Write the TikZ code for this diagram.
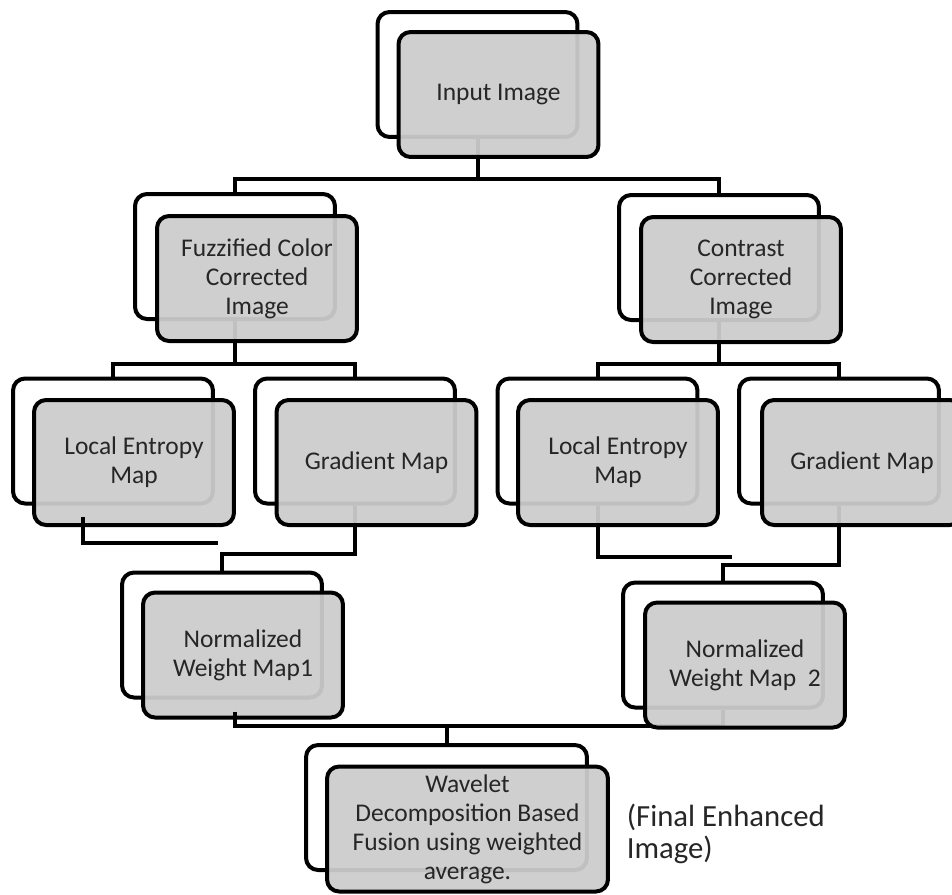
\documentclass[tikz,border=0pt]{standalone}
\usepackage{fontspec}
\setmainfont{Carlito}
\usetikzlibrary{positioning,calc}

\begin{document}
\begin{tikzpicture}[x=0.02cm, y=-0.02cm, line width=0.08cm,
  back/.style={draw=black, fill=white, rounded corners=0.24cm, minimum width=4cm, minimum height=2.5cm, inner sep=0pt},
  front/.style={back, fill=black!20, fill opacity=0.94, text opacity=1, align=center, text=black!85, font=\fontsize{14.5}{16.5}\selectfont},
  wide/.style={minimum width=5.62cm},
  note/.style={align=left, text=black!85, font=\fontsize{17.5}{18}\selectfont}]
\useasboundingbox (0,0) rectangle (952,894);
% shadow boxes
\node[back] (inpb) at (477.5,74.5) {};
\node[back] (fuzb) at (235,256.5) {};
\node[back] (conb) at (719,257.5) {};
\node[back] (le1b) at (113,441) {};
\node[back] (gr1b) at (355,441) {};
\node[back] (le2b) at (597.5,441) {};
\node[back] (gr2b) at (839,441) {};
\node[back] (w1b) at (222,635) {};
\node[back] (w2b) at (723,645) {};
\node[back, wide] (wavb) at (446.5,807.5) {};
% links
\draw (inpb.south) -- ++(0,40) coordinate (bus1);
\draw (fuzb.north) |- (bus1) -| (conb.north);
\draw (fuzb.south) -- ++(0,43) coordinate (bus2);
\draw (le1b.north) |- (bus2) -| (gr1b.north);
\draw (conb.south) -- ++(0,42) coordinate (bus3);
\draw (le2b.north) |- (bus3) -| (gr2b.north);
\draw (gr1b.south) -- ++(0,48.5) -| (w1b.north);
\coordinate (le2end) at (732,557);
\draw (le2b.south) |- (le2end);
\draw (gr2b.south) -- ++(0,59.5) -| (w2b.north);
\coordinate (bus4) at (446.5,726);
\draw (bus4) -| (w2b.south);
\draw (bus4) -- (wavb.north);
% front boxes
\node[front] (inp) at (498.5,94.5) {Input Image};
\node[front] (fuz) at (257,278.5) {Fuzzified Color\\Corrected\\Image};
\node[front] (con) at (741,279.5) {Contrast\\Corrected\\Image};
\node[front] (le1) at (134,462.5) {Local Entropy\\Map};
\node[front] (gr1) at (376.5,462.5) {Gradient Map};
\node[front] (le2) at (618,462.5) {Local Entropy\\Map};
\node[front] (gr2) at (862,462.5) {Gradient Map};
\node[front] (w1) at (243,655) {Normalized\\Weight Map1};
\node[front] (w2) at (745,665) {Normalized\\Weight Map\ \ 2};
\node[front, wide] (wav) at (467.5,829) {Wavelet\\Decomposition Based\\Fusion using weighted\\average.};
% loose tails
\coordinate (le1end) at (218,543);
\draw ([shift={(-51,-10)}]le1.south) |- (le1end);
\draw ([shift={(-8,-8)}]w1.south) |- (bus4);
\node[note, anchor=west] (out) at (619,834) {(Final Enhanced\\Image)};
\end{tikzpicture}
\end{document}
